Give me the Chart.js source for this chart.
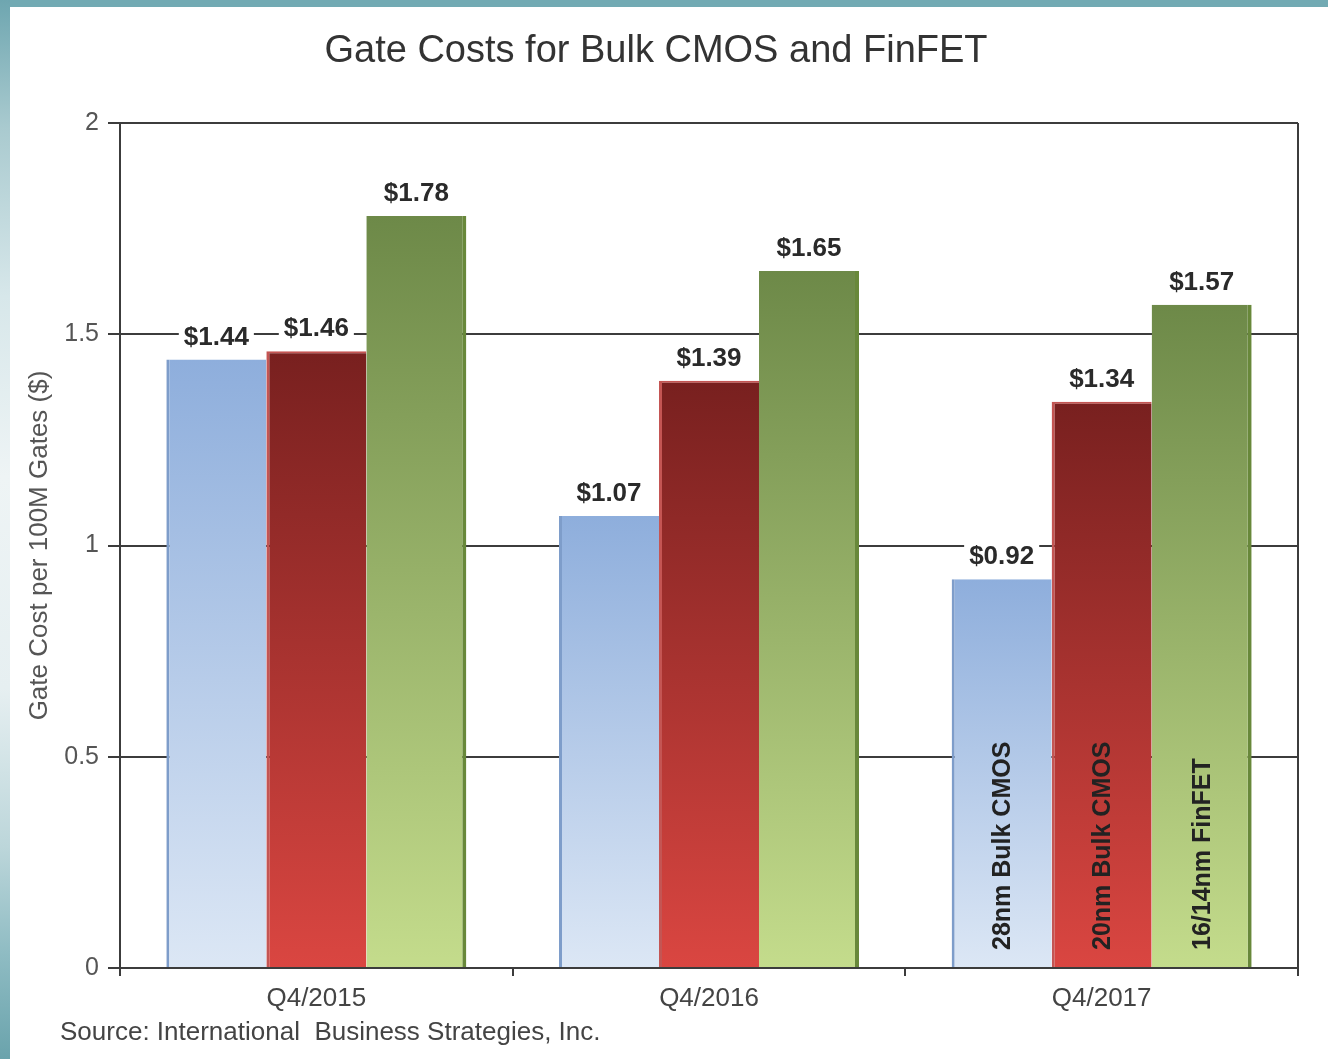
<!DOCTYPE html>
<html>
<head>
<meta charset="utf-8">
<script src="https://cdn.jsdelivr.net/npm/chart.js@4"></script>
<style>
  html, body { margin: 0; padding: 0; background: #ffffff; }
  #wrap { position: relative; width: 1328px; height: 1059px; overflow: hidden; background: #ffffff; }
  #topband { position: absolute; left: 0; top: 0; width: 1328px; height: 7px; background: #72aab3; }
  #leftband { position: absolute; left: 0; top: 0; width: 10px; height: 1059px;
    background: linear-gradient(to bottom, #6ea6b0 0%, #a9cacf 12%, #d7e7ea 28%, #eef4f5 45%, #e6eff1 65%, #bcd6da 80%, #8fbcc3 90%, #6aa3ac 100%); }
  canvas { position: absolute; left: 0; top: 0; }
</style>
</head>
<body>
<div id="wrap">
  <div id="topband"></div>
  <div id="leftband"></div>
  <canvas id="c" width="1328" height="1059"></canvas>
</div>
<script>
const categories = ['Q4/2015', 'Q4/2016', 'Q4/2017'];
const seriesNames = ['28nm Bulk CMOS', '20nm Bulk CMOS', '16/14nm FinFET'];
const bulk28 = [1.44, 1.07, 0.92];
const bulk20 = [1.46, 1.39, 1.34];
const finfet = [1.78, 1.65, 1.57];
const chartTitle = 'Gate Costs for Bulk CMOS and FinFET';
const yAxisTitle = 'Gate Cost per 100M Gates ($)';
const sourceNote = 'Source: International  Business Strategies, Inc.';

const FONT = '"Liberation Sans", Arial, sans-serif';

function gradientFill(topColor, bottomColor) {
  return function (context) {
    const chart = context.chart;
    if (!chart.chartArea || context.raw === undefined) return topColor;
    const y = chart.scales.y;
    const y0 = y.getPixelForValue(context.raw);
    const y1 = y.getPixelForValue(0);
    const g = chart.ctx.createLinearGradient(0, y0, 0, y1);
    g.addColorStop(0, topColor);
    g.addColorStop(1, bottomColor);
    return g;
  };
}

const frameAndLabels = {
  id: 'frameAndLabels',
  beforeDatasetsDraw(chart) {
    const {ctx, chartArea} = chart;
    ctx.save();
    ctx.strokeStyle = '#3c3c3c';
    ctx.lineWidth = 2;
    ctx.beginPath();
    ctx.moveTo(chartArea.right, chartArea.top);
    ctx.lineTo(chartArea.right, chartArea.bottom + 6);
    ctx.stroke();
    ctx.restore();
  },
  afterDatasetsDraw(chart) {
    const {ctx} = chart;
    ctx.save();
    ctx.font = 'bold 26px ' + FONT;
    ctx.textAlign = 'center';
    ctx.textBaseline = 'middle';
    chart.data.datasets.forEach((ds, i) => {
      const meta = chart.getDatasetMeta(i);
      meta.data.forEach((bar, j) => {
        const txt = '$' + ds.data[j].toFixed(2);
        const w = ctx.measureText(txt).width + 10;
        const cy = bar.y - 23;
        ctx.fillStyle = '#ffffff';
        ctx.fillRect(bar.x - w / 2, cy - 15, w, 30);
        ctx.fillStyle = '#2a2a2a';
        ctx.fillText(txt, bar.x, cy + 1);
      });
    });
    // series names inside last group of bars
    const last = chart.data.labels.length - 1;
    ctx.font = 'bold 25px ' + FONT;
    ctx.textAlign = 'left';
    chart.data.datasets.forEach((ds, i) => {
      const bar = chart.getDatasetMeta(i).data[last];
      ctx.save();
      ctx.translate(bar.x + 1, chart.chartArea.bottom - 18);
      ctx.rotate(-Math.PI / 2);
      ctx.fillStyle = '#222222';
      ctx.fillText(ds.label, 0, 0);
      ctx.restore();
    });
    ctx.restore();
  },
  afterDraw(chart) {
    const {ctx} = chart;
    ctx.save();
    ctx.font = '26px ' + FONT;
    ctx.fillStyle = '#444444';
    ctx.textAlign = 'left';
    ctx.textBaseline = 'middle';
    ctx.fillText(sourceNote, 60, 1033);
    ctx.restore();
  }
};

new Chart(document.getElementById('c'), {
  type: 'bar',
  data: {
    labels: categories,
    datasets: [
      { label: seriesNames[0], data: bulk28,
        backgroundColor: gradientFill('#8eaedc', '#dce7f5'),
        borderColor: '#7e9dca', borderWidth: {left: 3, top: 0, right: 0, bottom: 0}, borderSkipped: false },
      { label: seriesNames[1], data: bulk20,
        backgroundColor: gradientFill('#78201f', '#da4641'),
        borderColor: '#c45553', borderWidth: {left: 3, top: 2, right: 0, bottom: 0}, borderSkipped: false },
      { label: seriesNames[2], data: finfet,
        backgroundColor: gradientFill('#6d8948', '#c4dc8c'),
        borderColor: '#68883a', borderWidth: {left: 0, top: 0, right: 4, bottom: 0}, borderSkipped: false }
    ]
  },
  options: {
    responsive: false,
    animation: false,
    devicePixelRatio: 1,
    layout: { padding: { left: 14, top: 8, right: 30, bottom: 44 } },
    datasets: { bar: { categoryPercentage: 0.764, barPercentage: 1.0 } },
    plugins: {
      legend: { display: false },
      tooltip: { enabled: false },
      title: {
        display: true, text: chartTitle, color: '#333333',
        font: { family: FONT, size: 38, weight: 'normal' },
        padding: { top: 21, bottom: 48.4 }
      }
    },
    scales: {
      x: {
        grid: { display: true, drawOnChartArea: false, drawTicks: true, tickLength: 8, color: '#3c3c3c', lineWidth: 2, offset: true },
        border: { display: true, color: '#3c3c3c', width: 2 },
        ticks: { color: '#444444', padding: 7, font: { family: FONT, size: 26 } },
        afterFit(scale) { scale.height = 47; }
      },
      y: {
        min: 0, max: 2,
        ticks: { stepSize: 0.5, color: '#555555', padding: 9, font: { family: FONT, size: 25 },
          callback: (v) => String(Number(v)) },
        grid: { color: '#3c3c3c', lineWidth: 2, drawTicks: true, tickLength: 12 },
        border: { display: true, color: '#3c3c3c', width: 2 },
        title: { display: true, text: yAxisTitle, color: '#555555', padding: { top: 10, bottom: 0 },
          font: { family: FONT, size: 26 } },
        afterFit(scale) { scale.width = 106; }
      }
    }
  },
  plugins: [frameAndLabels]
});
</script>
</body>
</html>
